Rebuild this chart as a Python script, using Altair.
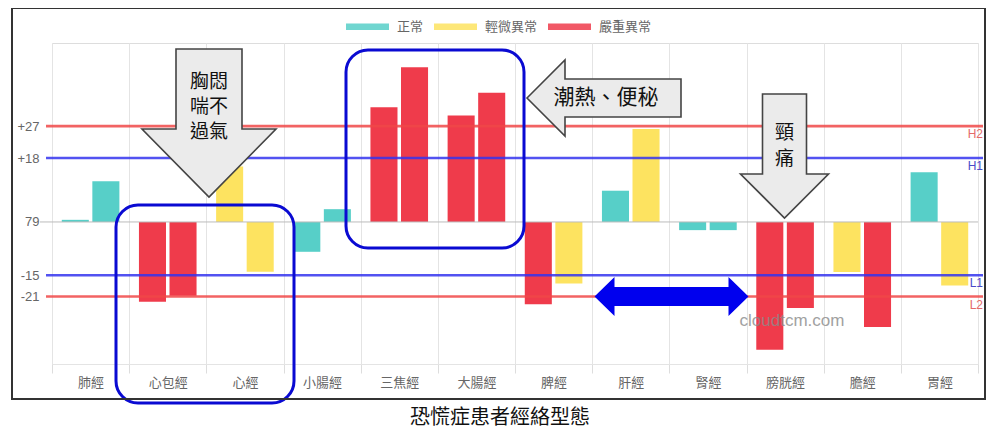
import altair as alt
import pandas as pd

# ---- data ----
meridians = ["肺經", "心包經", "心經", "小腸經", "三焦經", "大腸經",
             "脾經", "肝經", "腎經", "膀胱經", "膽經", "胃經"]
left_values = [0.6, -22.5, 15.6, -8.4, 32.3, 30.0, -23.2, 8.8, -2.3, -36.0, -14.1, 14.0]
right_values = [11.5, -20.8, -14.0, 3.6, 43.6, 36.4, -17.3, 26.2, -2.3, -24.2, -29.6, -17.9]
left_status = ["正常", "嚴重異常", "輕微異常", "正常", "嚴重異常", "嚴重異常",
               "嚴重異常", "正常", "正常", "嚴重異常", "輕微異常", "正常"]
right_status = ["正常", "嚴重異常", "輕微異常", "正常", "嚴重異常", "嚴重異常",
                "輕微異常", "輕微異常", "正常", "嚴重異常", "嚴重異常", "輕微異常"]
status_names = ["正常", "輕微異常", "嚴重異常"]
status_colors = ["#57CFC8", "#FDE360", "#EF3B4B"]

ref_values = [27, 18, -15, -21]
ref_names = ["H2", "H1", "L1", "L2"]
ref_colors = ["#F04848", "#3434EE", "#3434EE", "#F04848"]
ref_label_colors = ["#E46A6A", "#4A4AC8", "#4A4AC8", "#E46A6A"]

tick_values = [27, 18, 0, -15, -21]
tick_labels = ["+27", "+18", "79", "-15", "-21"]

title_text = "恐慌症患者經絡型態"
note_chest_lines = ["胸悶", "喘不", "過氣"]
note_heat = "潮熱、便秘"
note_neck_lines = ["頸", "痛"]
watermark = "cloudtcm.com"

FONT = "Noto Sans CJK TC"

# ---- tables ----
rows = []
for i, m in enumerate(meridians):
    rows.append({"meridian": m, "series": "a", "value": left_values[i], "status": left_status[i]})
    rows.append({"meridian": m, "series": "b", "value": right_values[i], "status": right_status[i]})
bars_df = pd.DataFrame(rows)
ref_df = pd.DataFrame({"v": ref_values, "name": ref_names, "c": ref_colors, "lc": ref_label_colors})

label_expr = "''"
for v, l in zip(tick_values, tick_labels):
    label_expr = f"datum.value === {v} ? '{l}' : ({label_expr})"

yscale = alt.Scale(domain=[-40, 50.4], nice=False, zero=False)

legend_shape = "M-1,-0.146H1V0.146H-1Z"

bars = alt.Chart(bars_df).mark_bar().encode(
    x=alt.X("meridian:N", sort=meridians, title=None,
            scale=alt.Scale(paddingInner=0, paddingOuter=0),
            axis=alt.Axis(tickBand="extent", grid=True, gridColor="#e4e4e4",
                          tickColor="#dddddd", tickSize=9, domainColor="#e4e4e4",
                          labelAngle=0, labelPadding=3, labelFontSize=13,
                          labelColor="#666666", labelFont=FONT)),
    xOffset=alt.XOffset("series:N", scale=alt.Scale(paddingInner=0.115, paddingOuter=0.32)),
    y=alt.Y("value:Q", scale=yscale, title=None,
            axis=alt.Axis(values=tick_values, labelExpr=label_expr, grid=False,
                          domain=False, ticks=False, labelPadding=13, labelFontSize=13,
                          labelColor="#666666", labelFont="Liberation Sans")),
    y2=alt.Y2(datum=0),
    color=alt.Color("status:N", scale=alt.Scale(domain=status_names, range=status_colors),
                    legend=alt.Legend(title=None, orient="none", direction="horizontal",
                                      legendX=294, legendY=-38, symbolType=legend_shape,
                                      symbolSize=1849, symbolStrokeWidth=0,
                                      labelOffset=8, columnPadding=10, padding=0,
                                      labelFontSize=13, labelColor="#666666",
                                      labelFont=FONT)),
)

baseline = alt.Chart(pd.DataFrame({"v": [0]})).mark_rule(color="#bbbbbb", strokeWidth=1).encode(
    y=alt.Y("v:Q", scale=yscale), x=alt.value(-12), x2=alt.value(926))

ref_lines = alt.Chart(ref_df).mark_rule(strokeWidth=2.6, opacity=0.85).encode(
    y=alt.Y("v:Q", scale=yscale), x=alt.value(-6), x2=alt.value(931),
    color=alt.Color("c:N", scale=None))

ref_labels = alt.Chart(ref_df).mark_text(align="right", baseline="middle", dy=8,
                                         fontSize=12, font="Liberation Sans").encode(
    y=alt.Y("v:Q", scale=yscale), x=alt.value(931), text="name:N",
    color=alt.Color("lc:N", scale=None))

box1 = alt.Chart(pd.DataFrame({"k": ["a"]})).mark_rect(
    fill="transparent", stroke="#0a0ad2", strokeWidth=3, cornerRadius=22).encode(
    x=alt.value(64), x2=alt.value(242), y=alt.value(162), y2=alt.value(360))
box2 = alt.Chart(pd.DataFrame({"k": ["b"]})).mark_rect(
    fill="transparent", stroke="#0a0ad2", strokeWidth=3, cornerRadius=22).encode(
    x=alt.value(294), x2=alt.value(472), y=alt.value(7), y2=alt.value(205))

down_big = "M-33,0H33V80H67L0,148L-67,80H-33Z"
left_arrow = "M0,0L38,-38V-19H154V19H38V38Z"
down_small = "M-22,0H22V80H44L0,124L-44,80H-22Z"
double_arrow = "M-77,0L-57,-19.5V-9.5H57V-19.5L77,0L57,19.5V9.5H-57V19.5Z"


def shape_layer(path, x, y, fill, stroke, sw):
    return alt.Chart(pd.DataFrame({"k": [0]})).mark_point(
        shape=path, size=4, filled=True, fill=fill, stroke=stroke,
        strokeWidth=sw, opacity=1, strokeJoin="miter").encode(
        x=alt.value(x), y=alt.value(y))


arrow1 = shape_layer(down_big, 157, 6, "#ebebeb", "#444444", 1.6)
arrow2 = shape_layer(left_arrow, 475, 55, "#ebebeb", "#444444", 1.6)
arrow3 = shape_layer(down_small, 732.5, 51, "#ebebeb", "#444444", 1.6)
arrow4 = alt.Chart(pd.DataFrame({"k": [0]})).mark_point(
    shape=double_arrow, size=4, filled=True, fill="#0000EE", strokeWidth=0,
    opacity=1).encode(x=alt.value(619.5), y=alt.value(253.5))


def text_layer(txt, x, y, size, color="#111111", font=FONT, opacity=1.0):
    return alt.Chart(pd.DataFrame({"t": [txt]})).mark_text(
        align="center", baseline="middle", fontSize=size, font=font, color=color,
        opacity=opacity).encode(
        x=alt.value(x), y=alt.value(y), text="t:N")


chest_y = [39, 64, 89]
t_chest = [text_layer(t, 157, yy, 19) for t, yy in zip(note_chest_lines, chest_y)]
t_heat = text_layer(note_heat, 554, 55, 21)
neck_y = [90, 115.5]
t_neck = [text_layer(t, 732.5, yy, 19) for t, yy in zip(note_neck_lines, neck_y)]
t_water = text_layer(watermark, 740, 278, 17, color="#8a8a8a", font="Liberation Sans", opacity=0.8)
t_title = text_layer(title_text, 448, 375, 20, color="#111111")

frame = alt.Chart(pd.DataFrame({"k": [0]})).mark_rect(
    fill="transparent", stroke="#333333", strokeWidth=2).encode(
    x=alt.value(-40), x2=alt.value(933), y=alt.value(-35), y2=alt.value(356))

chart = alt.layer(
    bars, baseline, ref_lines, ref_labels, box1, box2,
    arrow1, arrow2, arrow3, arrow4, *t_chest, t_heat, *t_neck, t_water, t_title, frame
).properties(
    width=926, height=321,
    autosize=alt.AutoSizeParams(type="none"),
    padding={"left": 44, "top": 35, "right": 14, "bottom": 68},
).configure_view(stroke=None).configure(background="white")

chart.save("out.html", embed_options={"renderer": "svg", "actions": False})
